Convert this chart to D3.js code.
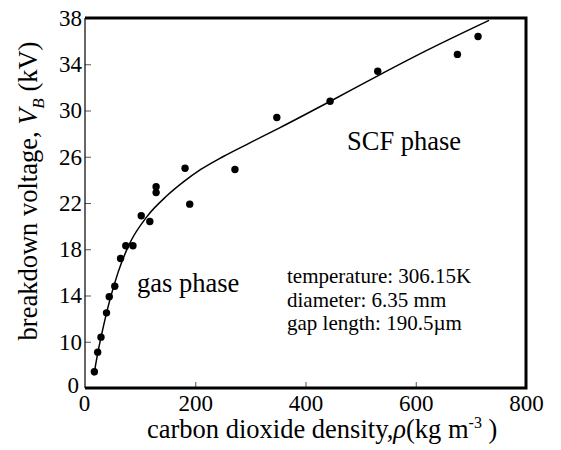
<!DOCTYPE html>
<html>
<head>
<meta charset="utf-8">
<script src="https://cdn.jsdelivr.net/npm/d3@7"></script>
<style>
  body { margin: 0; background: white; }
  text { font-family: "Liberation Serif", "Times New Roman", serif; fill: black; }
</style>
</head>
<body>
<div id="container"></div>
<script>
let w = 561;
let h = 450;

// measured breakdown voltages
let density = [17, 23, 29, 39, 44, 54, 64.5, 74, 87, 102, 117.6, 129, 129, 181.5, 190, 272, 348, 444.6, 531, 675.6, 713];
let voltage = [7.4, 9.1, 10.4, 12.5, 13.9, 14.8, 17.2, 18.3, 18.3, 20.9, 20.4, 23.4, 22.9, 25.0, 21.9, 24.9, 29.4, 30.8, 33.4, 34.85, 36.4];

// fitted curve
let fitDensity = [16, 23, 30, 45, 60, 80, 112, 148, 178, 210, 250, 299, 353, 445, 531, 620, 733];
let fitVoltage = [7.1, 9.0, 10.6, 13.6, 16.0, 18.4, 20.8, 22.6, 23.8, 24.9, 26.0, 27.2, 28.5, 30.8, 33.0, 35.2, 37.8];

// y axis is broken: the bottom tick (6) is labelled 0
let xTicks = [0, 200, 400, 600, 800];
let yTicks = [6, 10, 14, 18, 22, 26, 30, 34, 38];
let yTickLabels = ["0", "10", "14", "18", "22", "26", "30", "34", "38"];

let notes = ["temperature: 306.15K", "diameter: 6.35 mm", "gap length: 190.5\u00b5m"];

let pLeft = 85, pRight = 526, pTop = 18, pBottom = 388;

let viz = d3.select("#container")
  .append("svg")
    .attr("width", w)
    .attr("height", h)
    .style("background-color", "white")
;

let xScale = d3.scaleLinear().domain([0, 800]).range([pLeft, pRight]);
let yScale = d3.scaleLinear().domain([6, 38]).range([pBottom, pTop]);

let xAxis = d3.axisBottom(xScale)
  .tickValues(xTicks)
  .tickSize(-6)
  .tickPadding(7)
;

let yAxis = d3.axisLeft(yScale)
  .tickValues(yTicks)
  .tickSize(-6)
  .tickPadding(3)
  .tickFormat((d, i) => yTickLabels[i])
;

let xg = viz.append("g")
  .attr("transform", "translate(0," + pBottom + ")")
  .call(xAxis);
let yg = viz.append("g")
  .attr("transform", "translate(" + pLeft + ",0)")
  .call(yAxis);

[xg, yg].forEach(g => {
  g.select(".domain").remove();
  g.selectAll(".tick line").attr("stroke", "#555").attr("stroke-width", 1);
  g.selectAll(".tick text")
    .style("font-family", "Liberation Serif")
    .style("font-size", "23px")
    .attr("fill", "black");
});
xg.selectAll(".tick line").filter(d => d == 0 || d == 800).remove();
yg.selectAll(".tick line").filter(d => d == 6 || d == 38).remove();
xg.selectAll(".tick text").filter(d => d == 0).attr("dx", "-1");
yg.selectAll(".tick text").filter(d => d == 6).attr("dx", "-3").attr("dy", "0.2em");

// frame: thin left axis, heavier top/right/bottom
viz.append("line")
  .attr("x1", pLeft).attr("x2", pLeft)
  .attr("y1", pTop).attr("y2", pBottom)
  .attr("stroke", "black").attr("stroke-width", 1.2);
viz.append("path")
  .attr("d", "M" + pLeft + "," + pTop + "H" + pRight + "V" + pBottom + "H" + pLeft)
  .attr("fill", "none")
  .attr("stroke", "black")
  .attr("stroke-width", 3);

// fitted line
let fit = fitDensity.map((d, i) => [d, fitVoltage[i]]);
let line = d3.line()
  .x(d => xScale(d[0]))
  .y(d => yScale(d[1]))
  .curve(d3.curveMonotoneX);

viz.append("path")
  .datum(fit)
  .attr("d", line)
  .attr("fill", "none")
  .attr("stroke", "black")
  .attr("stroke-width", 1.5);

// data points
viz.selectAll(".pt").data(density).enter()
  .append("circle")
    .classed("pt", true)
    .attr("cx", d => xScale(d))
    .attr("cy", (d, i) => yScale(voltage[i]))
    .attr("r", 3.7)
    .attr("fill", "black");

// region labels
viz.append("text")
  .attr("x", 137).attr("y", 292)
  .style("font-size", "26.5px")
  .text("gas phase");
viz.append("text")
  .attr("x", 347).attr("y", 150)
  .style("font-size", "26.5px")
  .text("SCF phase");

viz.selectAll(".note").data(notes).enter()
  .append("text")
    .classed("note", true)
    .attr("x", 287)
    .attr("y", (d, i) => 283 + i * 23.5)
    .style("font-size", "21px")
    .text(d => d);

// axis titles
let xt = viz.append("text")
  .attr("x", 147).attr("y", 438)
  .style("font-size", "26.5px");
xt.append("tspan").text("carbon dioxide density,");
xt.append("tspan").style("font-style", "italic").text("\u03c1");
xt.append("tspan").text("(kg m");
xt.append("tspan").attr("dy", -10).style("font-size", "16px").text("-3");
xt.append("tspan").attr("dy", 10).text(" )");

let yt = viz.append("text")
  .attr("transform", "translate(37,191) rotate(-90)")
  .attr("text-anchor", "middle")
  .style("font-size", "26.5px");
yt.append("tspan").text("breakdown voltage, ");
yt.append("tspan").style("font-style", "italic").text("V");
yt.append("tspan").attr("dy", 7).style("font-size", "17px").style("font-style", "italic").text("B");
yt.append("tspan").attr("dy", -7).text(" (kV)");
</script>
</body>
</html>
